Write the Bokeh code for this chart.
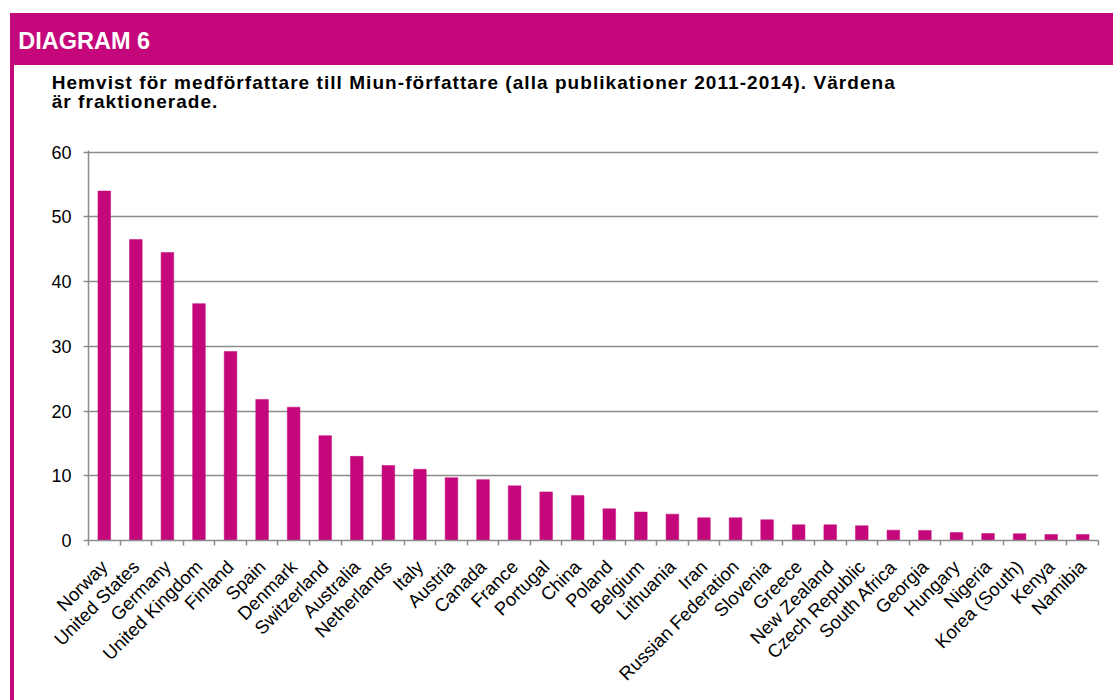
from math import pi
from bokeh.plotting import figure
from bokeh.layouts import column
from bokeh.models import FixedTicker, Range1d, Div
from bokeh.embed import file_html
from bokeh.resources import INLINE

# ---- data ----
countries = ["Norway", "United States", "Germany", "United Kingdom", "Finland", "Spain",
             "Denmark", "Switzerland", "Australia", "Netherlands", "Italy", "Austria",
             "Canada", "France", "Portugal", "China", "Poland", "Belgium", "Lithuania",
             "Iran", "Russian Federation", "Slovenia", "Greece", "New Zealand",
             "Czech Republic", "South Africa", "Georgia", "Hungary", "Nigeria",
             "Korea (South)", "Kenya", "Namibia"]
values = [54.0, 46.5, 44.5, 36.6, 29.2, 21.8, 20.6, 16.2, 13.0, 11.6, 11.0, 9.7,
          9.4, 8.45, 7.5, 6.95, 4.9, 4.4, 4.07, 3.5, 3.5, 3.2, 2.42, 2.42,
          2.27, 1.6, 1.55, 1.24, 1.08, 1.05, 0.93, 0.93]
y_ticks = [0, 10, 20, 30, 40, 50, 60]

header_text = "DIAGRAM 6"
title_lines = ["Hemvist för medförfattare till Miun-författare (alla publikationer 2011-2014). Värdena",
               "är fraktionerade."]

MAG = "#C4077A"
GRAY = "#8C8C8C"
FONT = "Liberation Sans"

W = 1113
TOP_H = 120
FIG_H = 700 - TOP_H

# ---- header + title (HTML) ----
title_style = (f"position:absolute;left:51.7px;line-height:1;white-space:nowrap;"
               f"font-family:'{FONT}';font-weight:bold;font-size:19px;letter-spacing:1.05px;color:black;")
html = f"""
<div style="position:relative;width:{W}px;height:{TOP_H}px;background:white;overflow:hidden;">
  <div style="position:absolute;left:10px;top:13px;width:{W-10}px;height:52px;background:{MAG};"></div>
  <div style="position:absolute;left:10px;top:13px;width:4px;height:{TOP_H-13}px;background:{MAG};"></div>
  <div style="position:absolute;left:18.3px;top:30.1px;line-height:1;white-space:nowrap;
              font-family:'{FONT}';font-weight:bold;font-size:23.5px;color:white;">{header_text}</div>
  <div style="{title_style}top:73.2px;">{title_lines[0]}</div>
  <div style="{title_style}top:92.3px;">{title_lines[1]}</div>
</div>
"""
top = Div(text=html, width=W, height=TOP_H, margin=0)

# ---- chart ----
n = len(countries)
xs = [i + 0.5 for i in range(n)]

p = figure(width=W, height=FIG_H, output_backend="svg", toolbar_location=None,
           x_range=Range1d(0, n), y_range=Range1d(0, 60.26),
           min_border_left=88, min_border_right=15, min_border_top=30,
           min_border_bottom=160, margin=0,
           styles={"background": f"linear-gradient({MAG},{MAG}) 10px 0px / 4px 100% no-repeat"})
p.outline_line_color = None
p.background_fill_color = "white"
p.border_fill_alpha = 0

p.vbar(x=xs, top=values, bottom=0, width=0.4, fill_color=MAG, line_color=MAG, line_width=0.5)

# x axis
xa = p.xaxis[0]
xa.ticker = FixedTicker(ticks=xs, minor_ticks=list(range(n + 1)))
xa.major_label_overrides = {float(x): c for x, c in zip(xs, countries)}
xa.major_label_orientation = pi / 4
xa.major_tick_out = 0
xa.major_tick_in = 0
xa.minor_tick_out = 5
xa.minor_tick_in = 0
xa.minor_tick_line_color = GRAY
xa.minor_tick_line_width = 1.5
xa.axis_line_color = GRAY
xa.axis_line_width = 1.5
xa.major_label_standoff = 18
xa.major_label_text_font = FONT
xa.major_label_text_font_size = "18.5px"
xa.major_label_text_color = "black"

# y axis
ya = p.yaxis[0]
ya.ticker = FixedTicker(ticks=y_ticks)
ya.major_tick_out = 5
ya.major_tick_in = 0
ya.minor_tick_out = 0
ya.minor_tick_in = 0
ya.major_tick_line_color = GRAY
ya.major_tick_line_width = 1.5
ya.axis_line_color = GRAY
ya.axis_line_width = 1.5
ya.major_label_standoff = 12
ya.major_label_text_font = FONT
ya.major_label_text_font_size = "18px"
ya.major_label_text_color = "black"

p.xgrid.visible = False
p.ygrid.grid_line_color = GRAY
p.ygrid.grid_line_width = 1.5

layout = column(top, p, spacing=0, margin=0)

open("out.html", "w", encoding="utf-8").write(file_html(layout, INLINE))
